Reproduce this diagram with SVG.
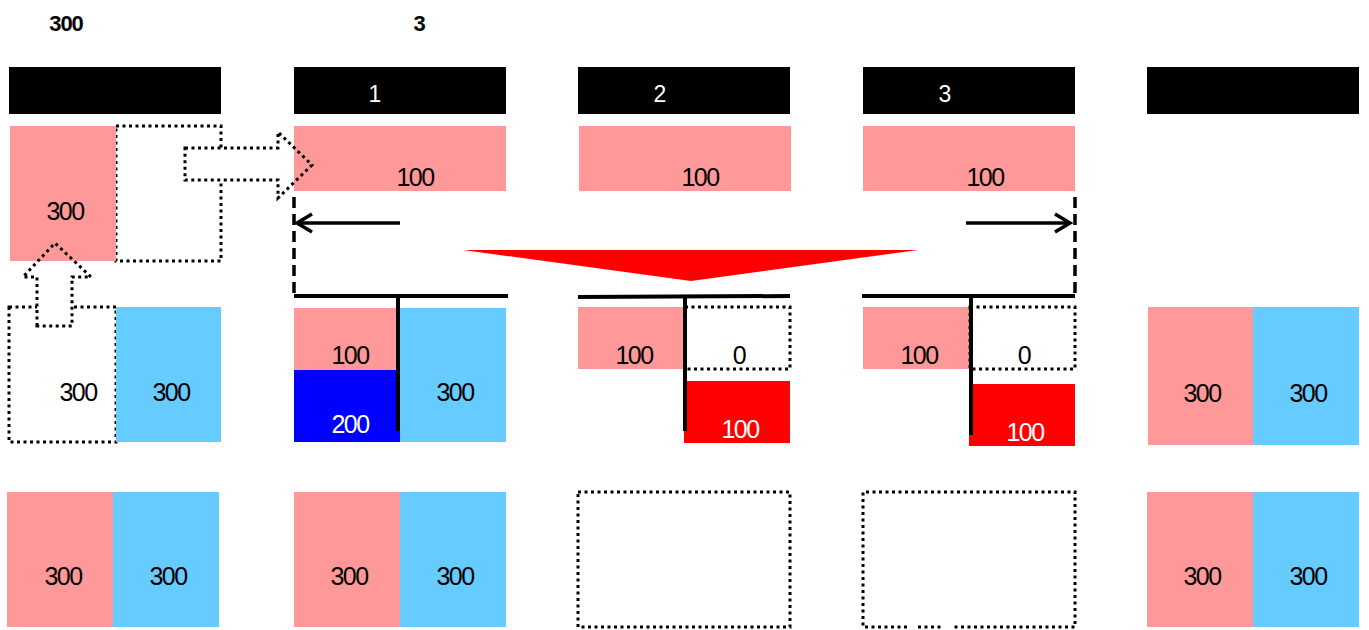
<svg xmlns="http://www.w3.org/2000/svg" width="1369" height="630" viewBox="0 0 1369 630">
<style>
.hdr{fill:#000}
.pk{fill:#FF9999}
.lb{fill:#66CCFF}
.bl{fill:#0000FF}
.rd{fill:#FF0000}
.dot{fill:#fff;stroke:#000;stroke-width:3;stroke-dasharray:3 3.5}
.dotline{fill:none;stroke:#000;stroke-width:3;stroke-dasharray:3 3.5}
.wfill{fill:#fff;stroke:none}
.dash{fill:none;stroke:#000;stroke-width:3.5;stroke-dasharray:11 6}
.ln{fill:none;stroke:#000;stroke-width:4}
.t{font-family:"Liberation Sans",Arial,sans-serif;font-size:25px;letter-spacing:-1.5px;text-anchor:middle;fill:#000}
.w{fill:#fff}
.ht{font-family:"Liberation Sans",Arial,sans-serif;font-size:23px;text-anchor:middle;fill:#fff}
.top{font-family:"Liberation Sans",Arial,sans-serif;font-size:22px;font-weight:bold;letter-spacing:-1px;text-anchor:middle;fill:#000}
</style>

<g id="title">
<text class="top" x="66" y="31">300</text>
<text class="top" x="419" y="31">3</text>
</g>

<g id="headers">
<rect class="hdr" x="9" y="67" width="212" height="47"/>
<rect class="hdr" x="294" y="67" width="212" height="47"/>
<rect class="hdr" x="578" y="67" width="212" height="47"/>
<rect class="hdr" x="863" y="67" width="212" height="47"/>
<rect class="hdr" x="1147" y="67" width="212" height="47"/>
<text class="ht" x="375" y="102">1</text>
<text class="ht" x="660" y="102">2</text>
<text class="ht" x="945" y="102">3</text>
</g>

<g id="col1">
<rect class="dot" x="116" y="126" width="105" height="135"/>
<rect class="dot" x="9" y="307" width="107" height="135"/>
<path class="wfill" d="M185,148 L278,148 L278,132 L312,165 L278,198 L278,180 L185,180 Z"/>
<path class="wfill" d="M37,326 L37,277 L23,277 L55,243 L91,277 L72,277 L72,326 Z"/>
<rect class="pk" x="10" y="126" width="106" height="135"/>
<text class="t" x="65" y="220">300</text>
<text class="t" x="78" y="401">300</text>
<rect class="lb" x="116" y="307" width="105" height="135"/>
<text class="t" x="171" y="401">300</text>
<rect class="pk" x="7" y="492" width="106" height="135"/>
<rect class="lb" x="113" y="492" width="106" height="135"/>
<text class="t" x="63" y="585">300</text>
<text class="t" x="168" y="585">300</text>
</g>

<g id="col2">
<rect class="pk" x="294" y="126" width="212" height="65"/>
<text class="t" x="415" y="186">100</text>
<rect class="pk" x="294" y="308" width="106" height="62"/>
<rect class="bl" x="294" y="370" width="106" height="72"/>
<rect class="lb" x="400" y="308" width="106" height="134"/>
<text class="t" x="350" y="364">100</text>
<text class="t w" x="350" y="433">200</text>
<text class="t" x="455" y="401">300</text>
<rect class="pk" x="294" y="492" width="106" height="135"/>
<rect class="lb" x="400" y="492" width="106" height="135"/>
<text class="t" x="349" y="585">300</text>
<text class="t" x="455" y="585">300</text>
</g>

<g id="col3">
<rect class="pk" x="579" y="126" width="212" height="65"/>
<text class="t" x="700" y="186">100</text>
<rect class="pk" x="578" y="307" width="106" height="62"/>
<text class="t" x="634" y="364">100</text>
<rect class="dot" x="685" y="307" width="105" height="62"/>
<text class="t" x="739" y="364">0</text>
<rect class="rd" x="684" y="381" width="106" height="62"/>
<text class="t w" x="740" y="438">100</text>
<rect class="dot" x="578" y="492" width="212" height="135"/>
</g>

<g id="col4">
<rect class="pk" x="863" y="126" width="212" height="65"/>
<text class="t" x="985" y="186">100</text>
<rect class="pk" x="863" y="307" width="106" height="62"/>
<text class="t" x="919" y="364">100</text>
<rect class="dot" x="970" y="307" width="105" height="62"/>
<text class="t" x="1024" y="364">0</text>
<rect class="rd" x="969" y="384" width="106" height="62"/>
<text class="t w" x="1025" y="441">100</text>
<path class="dotline" d="M907,627 L863,627 L863,492 L1075,492 L1075,627 L951,627"/>
<line class="dotline" x1="918" y1="627" x2="944" y2="627"/>
</g>

<g id="col5">
<rect class="pk" x="1148" y="307" width="105" height="138"/>
<rect class="lb" x="1253" y="307" width="106" height="138"/>
<text class="t" x="1202" y="402">300</text>
<text class="t" x="1308" y="402">300</text>
<rect class="pk" x="1147" y="492" width="106" height="135"/>
<rect class="lb" x="1253" y="492" width="106" height="135"/>
<text class="t" x="1202" y="585">300</text>
<text class="t" x="1308" y="585">300</text>
</g>

<g id="connectors">
<path class="dotline" d="M185,148 L278,148 L278,132 L312,165 L278,198 L278,180 L185,180 Z"/>
<path class="dotline" d="M37,326 L37,277 L23,277 L55,243 L91,277 L72,277 L72,326 Z"/>
<line class="dash" x1="294" y1="197" x2="294" y2="298"/>
<line class="dash" x1="1075" y1="197" x2="1075" y2="298"/>
<line class="ln" x1="294" y1="296" x2="508" y2="296"/>
<line class="ln" x1="578" y1="297" x2="790" y2="296"/>
<line class="ln" x1="862" y1="296" x2="1075" y2="296"/>
<line class="ln" x1="398" y1="298" x2="398" y2="431"/>
<line class="ln" x1="685" y1="297" x2="685" y2="431"/>
<line class="ln" x1="971" y1="297" x2="971" y2="435"/>
<line x1="400" y1="223" x2="297" y2="223" stroke="#000" stroke-width="3.5"/>
<path d="M312,214 L297,223 L312,232" fill="none" stroke="#000" stroke-width="3.5"/>
<line x1="966" y1="223" x2="1070" y2="223" stroke="#000" stroke-width="3.5"/>
<path d="M1055,214 L1070,223 L1055,232" fill="none" stroke="#000" stroke-width="3.5"/>
<polygon points="463,250 918,250 691,281" fill="#FF0000"/>
</g>
</svg>
